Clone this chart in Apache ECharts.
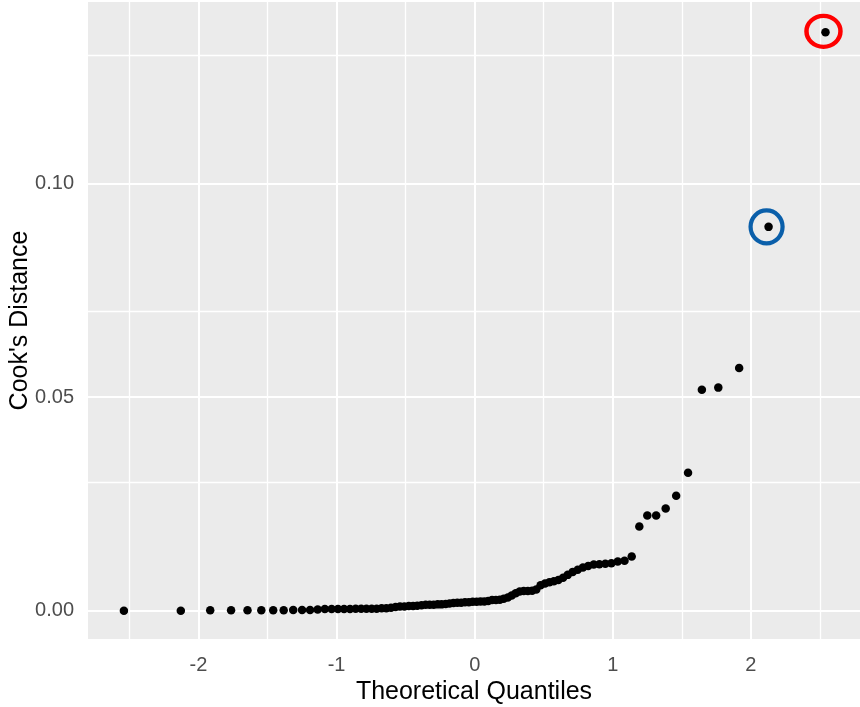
<!DOCTYPE html>
<html>
<head>
<meta charset="utf-8">
<script src="https://cdn.jsdelivr.net/npm/echarts@6/dist/echarts.min.js"></script>
<style>
html, body { margin: 0; padding: 0; background: #ffffff; }
#chart { width: 860px; height: 707px; }
</style>
</head>
<body>
<div id="chart"></div>
<script>
// Theoretical normal quantiles (x), 90 points
const theoreticalQuantiles = [
  -2.540, -2.128, -1.915, -1.764, -1.645, -1.545, -1.459, -1.383, -1.314, -1.250,
  -1.192, -1.137, -1.085, -1.036, -0.990, -0.946, -0.903, -0.862, -0.822, -0.784,
  -0.746, -0.710, -0.674, -0.640, -0.606, -0.573, -0.541, -0.509, -0.477, -0.446,
  -0.416, -0.385, -0.355, -0.326, -0.297, -0.268, -0.240, -0.210, -0.182, -0.154,
  -0.126, -0.098, -0.070, -0.042, -0.014, 0.014, 0.042, 0.070, 0.098, 0.126,
  0.154, 0.182, 0.210, 0.240, 0.268, 0.297, 0.326, 0.355, 0.385, 0.416,
  0.446, 0.477, 0.509, 0.541, 0.573, 0.606, 0.640, 0.674, 0.710, 0.746,
  0.784, 0.822, 0.862, 0.903, 0.946, 0.990, 1.036, 1.085, 1.137, 1.192,
  1.250, 1.314, 1.383, 1.459, 1.545, 1.645, 1.764, 1.915, 2.128, 2.540
];
// Sorted Cook's distances (y)
const cooksDistance = [
  0.0000, 0.0000, 0.0001, 0.0001, 0.0001, 0.0001, 0.0001, 0.0001, 0.0002, 0.0002,
  0.0002, 0.0003, 0.0004, 0.0004, 0.0004, 0.0004, 0.0004, 0.0005, 0.0005, 0.0005,
  0.0005, 0.0005, 0.0006, 0.0006, 0.0007, 0.0009, 0.0010, 0.0010, 0.0011, 0.0011,
  0.0012, 0.0013, 0.0014, 0.0014, 0.0014, 0.0015, 0.0015, 0.0016, 0.0017, 0.0018,
  0.0019, 0.0019, 0.0020, 0.0020, 0.0021, 0.0021, 0.0022, 0.0022, 0.0023, 0.0025,
  0.0025, 0.0026, 0.0028, 0.0031, 0.0036, 0.0041, 0.0045, 0.0046, 0.0046, 0.0047,
  0.0050, 0.0060, 0.0064, 0.0067, 0.0069, 0.0072, 0.0077, 0.0084, 0.0091, 0.0096,
  0.0101, 0.0105, 0.0108, 0.0109, 0.0110, 0.0111, 0.0115, 0.0117, 0.0127, 0.0197,
  0.0223, 0.0223, 0.0239, 0.0269, 0.0323, 0.0517, 0.0522, 0.0568, 0.0898, 0.1353
];
const xTicks = [-2, -1, 0, 1, 2];
const xMinorTicks = [-2.5, -1.5, -0.5, 0.5, 1.5, 2.5];
const yTicks = [0, 0.05, 0.10];
const yMinorTicks = [0.025, 0.075, 0.125];
const redHighlightIndex = 89;
const blueHighlightIndex = 88;

const points = theoreticalQuantiles.map((x, i) => [x, cooksDistance[i]]);

const gridLines = [];
xTicks.forEach(v => gridLines.push({ xAxis: v, lineStyle: { width: 2 } }));
xMinorTicks.forEach(v => gridLines.push({ xAxis: v, lineStyle: { width: 1.3 } }));
yTicks.forEach(v => gridLines.push({ yAxis: v, lineStyle: { width: 2 } }));
yMinorTicks.forEach(v => gridLines.push({ yAxis: v, lineStyle: { width: 1.3 } }));

const chart = echarts.init(document.getElementById('chart'), null, { renderer: 'canvas' });
const fontFam = '"Liberation Sans", Arial, sans-serif';
chart.setOption({
  animation: false,
  backgroundColor: '#ffffff',
  textStyle: { fontFamily: fontFam },
  grid: {
    left: 88, top: 2, width: 772, height: 637,
    containLabel: false, outerBoundsMode: 'none',
    show: true, backgroundColor: '#EBEBEB', borderWidth: 0
  },
  xAxis: {
    type: 'value', min: -2.80, max: 2.79,
    name: 'Theoretical Quantiles', nameLocation: 'middle', nameGap: 41, nameMoveOverlap: false,
    nameTextStyle: { fontSize: 25, color: '#000000', fontFamily: fontFam },
    axisLine: { show: false },
    splitLine: { show: false },
    axisTick: { show: true, customValues: xTicks, length: 6, lineStyle: { color: '#333333', width: 1.5 } },
    axisLabel: { customValues: xTicks, fontSize: 20, color: '#4D4D4D', margin: 16, fontFamily: fontFam,
      formatter: v => String(v) }
  },
  yAxis: {
    type: 'value', min: -0.0066, max: 0.1424,
    name: "Cook's Distance", nameLocation: 'middle', nameGap: 55, nameRotate: 90, nameMoveOverlap: false,
    nameTextStyle: { fontSize: 25, color: '#000000', fontFamily: fontFam },
    axisLine: { show: false },
    splitLine: { show: false },
    axisTick: { show: true, customValues: yTicks, length: 6, lineStyle: { color: '#333333', width: 1.5 } },
    axisLabel: { customValues: yTicks, fontSize: 20, color: '#4D4D4D', margin: 14, fontFamily: fontFam,
      formatter: v => v.toFixed(2) }
  },
  series: [
    {
      type: 'scatter', data: [], z: 1, silent: true,
      markLine: {
        silent: true, z: 1, symbol: ['none', 'none'], label: { show: false },
        lineStyle: { color: '#ffffff', type: 'solid', opacity: 1 },
        emphasis: { disabled: true },
        data: gridLines
      }
    },
    {
      type: 'scatter', data: points, z: 5, symbol: 'circle', symbolSize: 8.5,
      itemStyle: { color: '#000000', opacity: 1 }
    },
    {
      type: 'scatter', data: [points[redHighlightIndex]], z: 6, symbol: 'circle',
      symbolSize: [34, 31], symbolOffset: [-2, -1],
      itemStyle: { color: 'rgba(0,0,0,0)', borderColor: '#FF0000', borderWidth: 4.3, opacity: 1 }
    },
    {
      type: 'scatter', data: [points[blueHighlightIndex]], z: 6, symbol: 'circle',
      symbolSize: [32, 33], symbolOffset: [-2, 0],
      itemStyle: { color: 'rgba(0,0,0,0)', borderColor: '#0A5FAA', borderWidth: 4.3, opacity: 1 }
    }
  ]
});
</script>
</body>
</html>
